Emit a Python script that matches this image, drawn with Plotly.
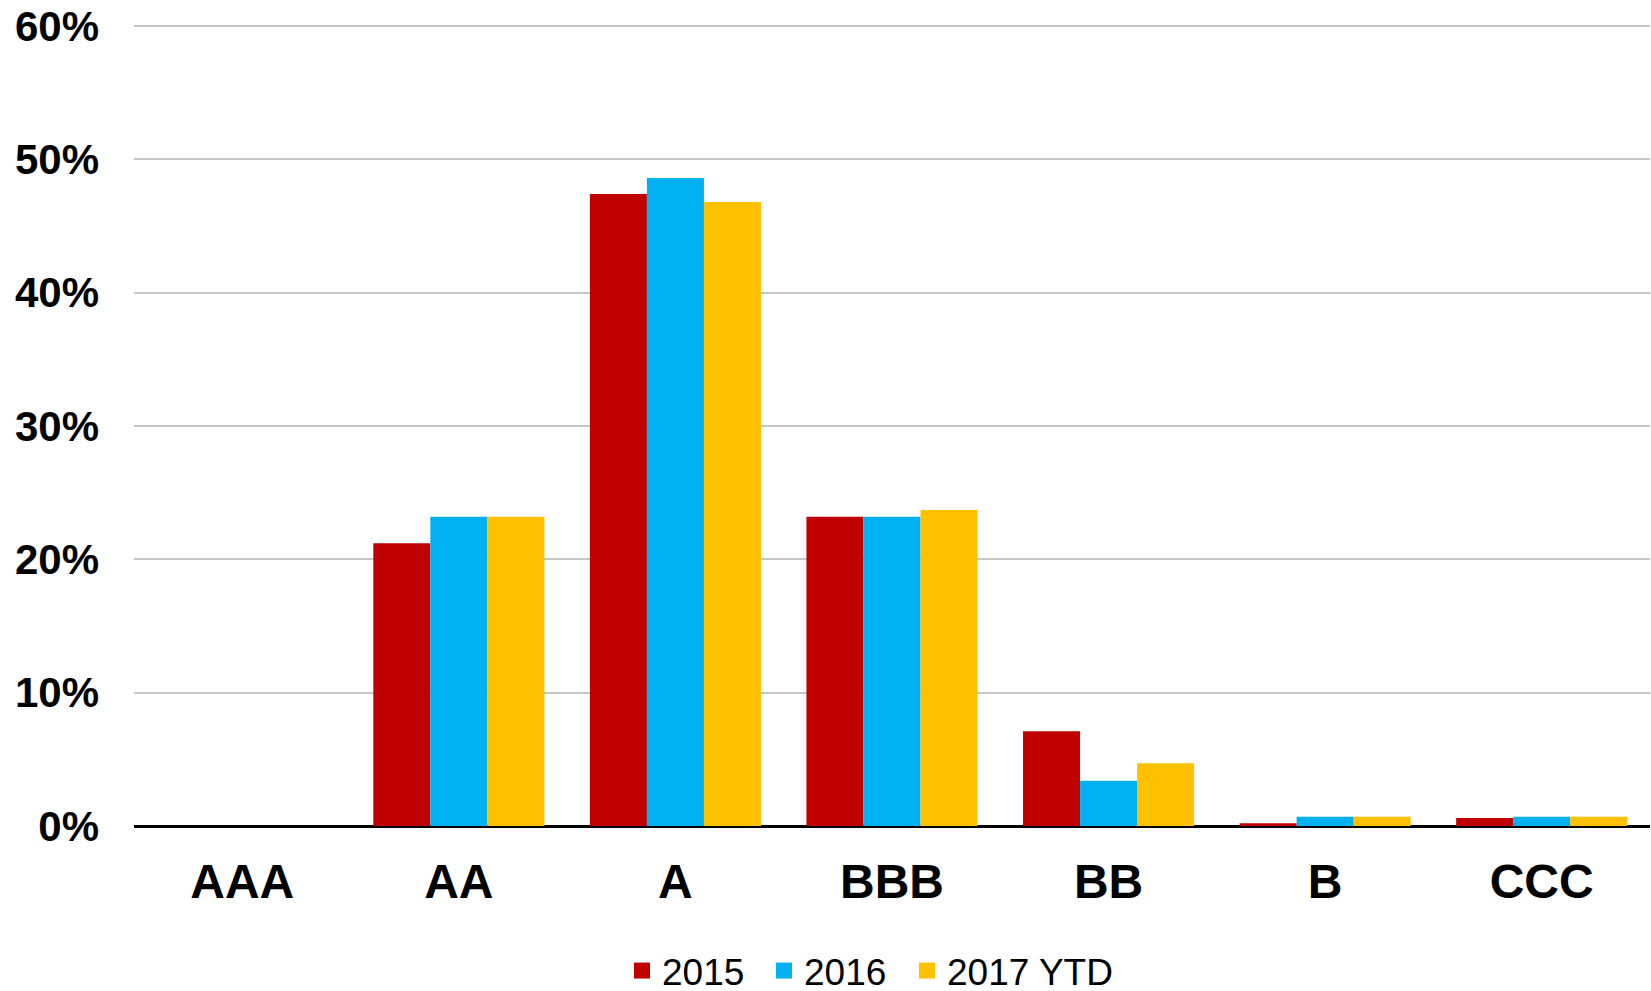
import plotly.graph_objects as go

categories = ["AAA", "AA", "A", "BBB", "BB", "B", "CCC"]
series_names = ["2015", "2016", "2017 YTD"]
values_2015 = [0.0, 21.2, 47.4, 23.2, 7.1, 0.2, 0.6]
values_2016 = [0.0, 23.2, 48.6, 23.2, 3.4, 0.7, 0.7]
values_2017 = [0.0, 23.2, 46.8, 23.7, 4.7, 0.7, 0.7]
colors = ["#C00000", "#00B0F0", "#FFC000"]
y_ticks = [0, 10, 20, 30, 40, 50, 60]
y_tick_labels = ["0%", "10%", "20%", "30%", "40%", "50%", "60%"]

legend_ids = ["legend", "legend2", "legend3"]
legend_x_px = [622, 764, 907]

FONT = "Liberation Sans, Arial, sans-serif"

fig = go.Figure()
for name, vals, col, lid in zip(series_names, [values_2015, values_2016, values_2017], colors, legend_ids):
    fig.add_trace(go.Bar(x=categories, y=vals, name=name, marker_color=col,
                         marker_line_width=0, showlegend=False))
    fig.add_trace(go.Scatter(x=[None], y=[None], mode="markers", name=name,
                             marker=dict(symbol="square", size=19, color=col),
                             showlegend=True, legend=lid))

layout_legends = {}
for lid, xp in zip(legend_ids, legend_x_px):
    layout_legends[lid] = dict(
        orientation="h", xref="container", yref="container",
        x=xp / 1651, xanchor="left", y=1 - 971 / 991, yanchor="middle",
        font=dict(size=37, family=FONT), itemwidth=30,
        bgcolor="rgba(0,0,0,0)",
    )

fig.update_layout(
    width=1651, height=991,
    margin=dict(l=134, r=1, t=22, b=165),
    plot_bgcolor="white", paper_bgcolor="white",
    barmode="group", bargap=0.21, bargroupgap=0,
    font=dict(family=FONT, color="black"),
    xaxis=dict(
        tickfont=dict(size=48, family=FONT, weight="bold"),
        showgrid=False, showline=False, ticks="", ticklabelstandoff=23,
    ),
    yaxis=dict(
        range=[0, 60.3], tickvals=y_ticks, ticktext=y_tick_labels,
        tickfont=dict(size=42, family=FONT, weight="bold"),
        showgrid=True, gridcolor="#C6C6C6", gridwidth=2,
        zeroline=True, zerolinecolor="black", zerolinewidth=3,
        showline=False, ticks="", ticklabelstandoff=34,
    ),
    **layout_legends,
)

fig.write_html("out.html")
